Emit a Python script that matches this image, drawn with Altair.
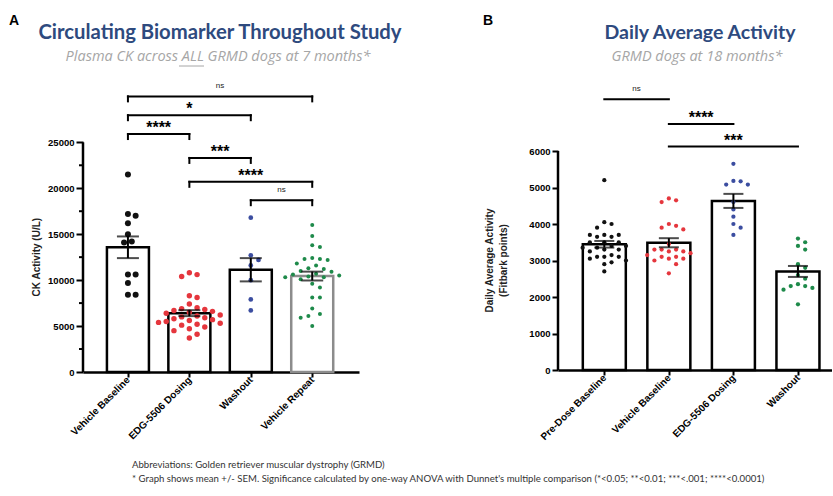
import json
import numpy as np
import pandas as pd
import altair as alt

# ---------------- Panel A: plasma CK activity (U/L), 7 months ----------------
A_GROUPS = ["Vehicle Baseline", "EDG-5506 Dosing", "Washout", "Vehicle Repeat"]
A_VEHICLE_BASELINE = [21500, 17200, 17000, 16200, 15000, 14200, 14100,
                      10600, 10600, 9700, 8400, 8400]
A_EDG_DOSING = [10800, 10600, 10400, 8300, 8100, 7400, 7000, 6900, 6800, 6700,
                6600, 6500, 6400, 6200, 6100, 6000, 5900, 5800, 5700, 5600,
                5500, 5400, 5300, 5200, 5100, 4900, 4700, 4500, 4100, 3700]
A_WASHOUT = [16800, 12700, 12200, 11600, 10000, 7900, 6700]
A_VEHICLE_REPEAT = [16000, 14800, 13800, 13600, 12400, 12300, 12300, 12200,
                    11800, 11600, 11300, 11200, 11000, 10900, 10700, 10600,
                    10500, 10400, 10300, 10300, 10100, 9600, 9200, 8100, 8100,
                    6900, 6300, 6100, 5900, 5000]
A_BRACKET_FROM = [0, 0, 0, 1, 1, 2]
A_BRACKET_TO = [3, 2, 1, 2, 3, 3]
A_BRACKET_LEVEL = [30000, 27950, 25900, 23300, 20700, 18700]
A_BRACKET_LABEL = ["ns", "*", "****", "***", "****", "ns"]
A_TITLE = "Circulating Biomarker Throughout Study"
A_SUBTITLE = "Plasma CK across ALL GRMD dogs at 7 months*"
A_YTITLE = ["CK Activity (U/L)"]

# ---------------- Panel B: daily average activity, 18 months ----------------
B_GROUPS = ["Pre-Dose Baseline", "Vehicle Baseline", "EDG-5506 Dosing", "Washout"]
B_PRE_DOSE = [5200, 4050, 4000, 3900, 3700, 3650, 3650, 3700, 3700, 3500,
              3500, 3500, 3400, 3350, 3300, 3400, 3350, 3300, 3250, 3150,
              3100, 3100, 3100, 3050, 3000, 2950, 2900, 2700]
B_VEHICLE_BASELINE = [4700, 4650, 4600, 4000, 3950, 3900, 3850, 3450, 3300,
                      3300, 3250, 3250, 3300, 3200, 3150, 3100, 3100, 3050,
                      3050, 3000, 2900, 2650]
B_EDG_DOSING = [5650, 5180, 5170, 5080, 5080, 4600, 4400, 4200, 4000, 3900, 3700]
B_WASHOUT = [3600, 3500, 3400, 3300, 2900, 2800, 2600, 2500, 2350, 2300,
             2300, 2250, 2200, 1800]
B_BRACKET_FROM = [0, 1, 1]
B_BRACKET_TO = [1, 2, 3]
B_BRACKET_LEVEL = [7420, 6740, 6120]
B_BRACKET_LABEL = ["ns", "****", "***"]
B_TITLE = "Daily Average Activity"
B_SUBTITLE = "GRMD dogs at 18 months*"
B_YTITLE = ["Daily Average Activity", "(Fitbark points)"]

FOOTNOTES = [
    "Abbreviations: Golden retriever muscular dystrophy (GRMD)",
    "* Graph shows mean +/- SEM. Significance calculated by one-way ANOVA with "
    "Dunnet's multiple comparison (*<0.05; **<0.01; ***<.001; ****<0.0001)",
]

# ---------------- styling ----------------
NAVY = "#2E4A7E"
SUB_GRAY = "#A6A6A6"
FONT = "Liberation Sans"
HEAD_FONT = "Lato"
SUB_FONT = "Open Sans"
DOT_COLORS = ["#111111", "#E5363D", "#3B4DA0", "#1E8A4A"]


def swarm_offsets(values, px_per_unit, step_px):
    """Greedy beeswarm: horizontal pixel offset for each dot so none overlap."""
    placed, out = [], []
    cands = [0.0]
    for i in range(1, 30):
        cands += [i * 0.5, -i * 0.5]
    for v in values:
        y = v * px_per_unit
        chosen = 0.0
        for c in cands:
            x = c * step_px
            if all((x - px) ** 2 + (y - py) ** 2 >= (0.92 * step_px) ** 2
                   for px, py in placed):
                chosen = x
                break
        placed.append((chosen, y))
        out.append(chosen)
    return out


def text_layer(text, x, y, **kw):
    return alt.Chart(pd.DataFrame({"t": [text]})).mark_text(**kw).encode(
        text="t:N", x=alt.value(x), y=alt.value(y))


def make_panel(groups, series, bar_strokes, dot_sizes, b_from, b_to, b_level,
               b_label, bracket_drop_px, width, height, x_domain, y_max, y_top,
               y_major, y_minor, y_tick, step_px, bar_px, cap_px, title, subtitle,
               ytitle, ytitle_x, letter, letter_x, sub_x, title_x, title_size):
    px_per_unit = height / y_max
    band_px = width / (x_domain[1] - x_domain[0])
    gdom = list(range(len(groups)))

    rows = []
    for gi, vals in enumerate(series):
        offs = swarm_offsets(vals, px_per_unit, step_px)
        for v, o in zip(vals, offs):
            rows.append({"gi": gi, "value": v, "x": gi + o / band_px})
    pts = pd.DataFrame(rows)

    xscale = alt.Scale(domain=x_domain, nice=False, zero=False)
    yscale = alt.Scale(domain=[0, y_max], nice=False)

    x_axis = alt.Axis(
        values=gdom, labelExpr=f"{json.dumps(groups)}[datum.value]", title=None,
        grid=False, labelAngle=-45, labelAlign="right", labelBaseline="middle",
        labelFontSize=10, labelPadding=1, tickSize=5, labelOverlap=False,
        labelBound=False, labelFlush=False)
    y_axis = alt.Axis(
        values=list(range(0, y_top + 1, y_major)), format="d",
        tickSize=y_tick, domain=False, grid=False, title=None, labelFontSize=9.5,
        labelPadding=2, labelOverlap=False)

    stats = alt.Chart(pts).transform_aggregate(
        mean="mean(value)", sd="stdev(value)", n="count()", groupby=["gi"]
    ).transform_calculate(
        lo="datum.mean - datum.sd / sqrt(datum.n)",
        hi="datum.mean + datum.sd / sqrt(datum.n)")

    bars = stats.mark_bar(size=bar_px, fill="white", strokeWidth=2.5).encode(
        x=alt.X("gi:Q", scale=xscale, axis=x_axis),
        y=alt.Y("mean:Q", scale=yscale, axis=y_axis),
        stroke=alt.Stroke("gi:N", scale=alt.Scale(domain=gdom, range=bar_strokes),
                          legend=None))

    dots = alt.Chart(pts).mark_circle(opacity=1).encode(
        x=alt.X("x:Q"),
        y=alt.Y("value:Q"),
        color=alt.Color("gi:N", scale=alt.Scale(domain=gdom, range=DOT_COLORS),
                        legend=None),
        size=alt.Size("gi:O", scale=alt.Scale(domain=gdom, range=dot_sizes),
                      legend=None))

    err = stats.mark_rule(strokeWidth=2, color="black").encode(
        x=alt.X("gi:Q"), y=alt.Y("lo:Q"), y2="hi:Q")
    cap_lo = stats.mark_tick(orient="horizontal", size=cap_px, thickness=2,
                             color="black").encode(x=alt.X("gi:Q"), y=alt.Y("lo:Q"))
    cap_hi = stats.mark_tick(orient="horizontal", size=cap_px, thickness=2,
                             color="black").encode(x=alt.X("gi:Q"), y=alt.Y("hi:Q"))

    # y-axis spine stops at the last labelled tick
    spine = alt.Chart(pd.DataFrame({"v0": [0], "v1": [y_top]})).mark_rule(
        strokeWidth=2.5, color="black").encode(
        x=alt.value(0), y=alt.Y("v0:Q"), y2="v1:Q")
    layers = [bars, dots, err, cap_lo, cap_hi, spine]

    if y_minor < y_major:
        minor = pd.DataFrame({"m": [v for v in range(y_minor, y_top, y_major)]})
        layers.append(alt.Chart(minor).mark_rule(strokeWidth=2, color="black").encode(
            x=alt.value(-4), x2=alt.value(0), y=alt.Y("m:Q")))

    br = pd.DataFrame({"g1": b_from, "g2": b_to, "level": b_level, "label": b_label})
    br["mid"] = (br["g1"] + br["g2"]) / 2
    hline = alt.Chart(br).mark_rule(strokeWidth=2, color="black",
                                    strokeCap="square").encode(
        x=alt.X("g1:Q"), x2="g2:Q", y=alt.Y("level:Q"))
    layers.append(hline)

    if bracket_drop_px:
        drop = bracket_drop_px / px_per_unit
        ends = pd.DataFrame({
            "g": list(br["g1"]) + list(br["g2"]),
            "top": list(br["level"]) * 2,
        })
        ends["bottom"] = ends["top"] - drop
        layers.append(alt.Chart(ends).mark_rule(
            strokeWidth=2, color="black", strokeCap="square").encode(
            x=alt.X("g:Q"), y=alt.Y("top:Q"), y2="bottom:Q"))

    ns_txt = alt.Chart(br).transform_filter("datum.label == 'ns'").mark_text(
        font=FONT, fontSize=8, color="#222", baseline="alphabetic", dy=-8).encode(
        x=alt.X("mid:Q"), y=alt.Y("level:Q"), text="label:N")
    star_txt = alt.Chart(br).transform_filter("datum.label != 'ns'").mark_text(
        font=FONT, fontSize=16, fontWeight="bold", color="black",
        baseline="alphabetic", dy=-1).encode(
        x=alt.X("mid:Q"), y=alt.Y("level:Q"), text="label:N")
    layers += [ns_txt, star_txt]

    # headings, panel letter and y-axis title
    layers.append(text_layer(letter, letter_x, -57, font=FONT, fontSize=14,
                             fontWeight="bold", color="black", align="center",
                             baseline="middle"))
    layers.append(text_layer(title, title_x, -45, font=HEAD_FONT,
                             fontSize=title_size, fontWeight="bold", color=NAVY,
                             align="center", baseline="middle"))
    layers.append(text_layer(subtitle, sub_x, -21, font=SUB_FONT, fontSize=14.5,
                             fontStyle="italic", color=SUB_GRAY, align="center",
                             baseline="middle"))
    mid_axis = height - (y_top / 2) * px_per_unit
    n_lines = len(ytitle)
    for i, line in enumerate(ytitle):
        layers.append(text_layer(
            line, ytitle_x + (i - (n_lines - 1) / 2) * 14, mid_axis, font=FONT,
            fontSize=10, fontWeight="bold", color="#222", angle=270,
            align="center", baseline="middle"))

    return alt.layer(*layers).properties(width=width, height=height)


panel_a = make_panel(
    A_GROUPS, [A_VEHICLE_BASELINE, A_EDG_DOSING, A_WASHOUT, A_VEHICLE_REPEAT],
    bar_strokes=["black", "black", "black", "#8C8C8C"],
    dot_sizes=[36, 16, 16, 16],
    b_from=A_BRACKET_FROM, b_to=A_BRACKET_TO, b_level=A_BRACKET_LEVEL,
    b_label=A_BRACKET_LABEL, bracket_drop_px=5,
    width=276, height=294, x_domain=[-0.65, 3.68], y_max=32000, y_top=25000,
    y_major=5000, y_minor=2500, y_tick=7, step_px=8, bar_px=42, cap_px=22,
    title=A_TITLE, subtitle=A_SUBTITLE, ytitle=A_YTITLE, ytitle_x=-46,
    letter="A", letter_x=-69, sub_x=135, title_x=137, title_size=20.3)

# underline under "ALL" and footnote lines sit with panel A
panel_a = alt.layer(
    panel_a,
    alt.Chart(pd.DataFrame({"a": [0]})).mark_rule(color=SUB_GRAY, strokeWidth=1).encode(
        x=alt.value(96), x2=alt.value(121), y=alt.value(-12)),
    text_layer(FOOTNOTES[0], 49, 387, font=HEAD_FONT, fontSize=9.6, color="#333",
               align="left", baseline="middle"),
    text_layer(FOOTNOTES[1], 49, 401, font=HEAD_FONT, fontSize=9.6, color="#333",
               align="left", baseline="middle"),
)

panel_b = make_panel(
    B_GROUPS, [B_PRE_DOSE, B_VEHICLE_BASELINE, B_EDG_DOSING, B_WASHOUT],
    bar_strokes=["black", "black", "black", "black"],
    dot_sizes=[18, 18, 18, 18],
    b_from=B_BRACKET_FROM, b_to=B_BRACKET_TO, b_level=B_BRACKET_LEVEL,
    b_label=B_BRACKET_LABEL, bracket_drop_px=0,
    width=274, height=292, x_domain=[-0.64, 3.45], y_max=8000, y_top=6000,
    y_major=1000, y_minor=1000, y_tick=6, step_px=7.5, bar_px=43, cap_px=20,
    title=B_TITLE, subtitle=B_SUBTITLE, ytitle=B_YTITLE, ytitle_x=-61,
    letter="B", letter_x=-70, sub_x=139, title_x=142, title_size=19.5)

chart = alt.hconcat(panel_a, panel_b, spacing=199, bounds="flush").resolve_scale(
    color="independent", stroke="independent", size="independent"
).properties(
    padding={"left": 8, "top": 14, "right": 0, "bottom": 0}
).configure_view(stroke=None).configure_axis(
    domainColor="black", domainWidth=2.5, tickColor="black", tickWidth=2,
    labelColor="black", labelFont=FONT, labelFontWeight="bold", grid=False)

chart.save("out.html", embed_options={"renderer": "svg", "actions": False})
